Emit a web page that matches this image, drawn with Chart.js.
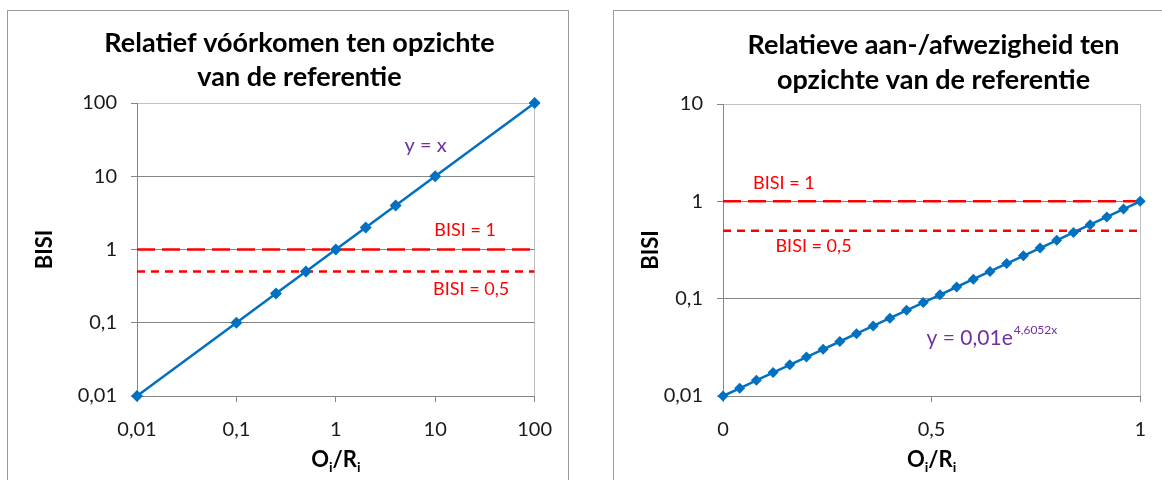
<!DOCTYPE html>
<html>
<head>
<meta charset="utf-8">
<script src="https://cdn.jsdelivr.net/npm/chart.js@4.4.0/dist/chart.umd.min.js"></script>
<style>
  body { margin:0; background:#fff; width:1162px; height:480px; overflow:hidden; position:relative; }
  .frame { position:absolute; border:1px solid #9a9a9a; border-bottom:none; background:#fff; }
  #f1 { left:7px; top:10px; width:560px; height:470px; }
  #f2 { left:613px; top:10px; width:548px; height:470px; border-right:none; }
  canvas { display:block; }
</style>
</head>
<body>
<div class="frame" id="f1"><canvas id="c1" width="560" height="470"></canvas></div>
<div class="frame" id="f2"><canvas id="c2" width="548" height="470"></canvas></div>
<script>
// links: relatief voorkomen (y = x)
const ratioX = [0.01, 0.1, 0.25, 0.5, 1, 2, 4, 10, 100]
const bisiLeft = [0.01, 0.1, 0.25, 0.5, 1, 2, 4, 10, 100]

// rechts: relatieve aan-/afwezigheid (y = 0,01e^4,6052x)
const fractionX = [0, 0.04, 0.08, 0.12, 0.16, 0.2, 0.24, 0.28, 0.32, 0.36, 0.4, 0.44, 0.48,
  0.52, 0.56, 0.6, 0.64, 0.68, 0.72, 0.76, 0.8, 0.84, 0.88, 0.92, 0.96, 1]
const bisiRight = [0.01, 0.012, 0.0145, 0.0174, 0.0209, 0.0251, 0.0302, 0.0363, 0.0437, 0.0525,
  0.0631, 0.0759, 0.0912, 0.1096, 0.1318, 0.1585, 0.1905, 0.2291, 0.2754, 0.3311, 0.3981,
  0.4786, 0.5754, 0.6918, 0.8318, 1]

// referentielijnen
const bisiLevels = [1, 0.5]

// as-labels
const leftXTicks = [0.01, 0.1, 1, 10, 100]
const leftYTicks = [0.01, 0.1, 1, 10, 100]
const rightXTicks = [0, 0.5, 1]
const rightYTicks = [0.01, 0.1, 1, 10]

const FONT = "Lato, 'Open Sans', sans-serif"
const BLUE = '#0070c0'
const RED = '#ff0000'
const PURPLE = '#7030a0'

Chart.defaults.font.family = FONT
Chart.defaults.color = '#1a1a1a'

const comma = v => String(v).replace('.', ',')

function axis(type, ticks, fixed, isX) {
  const min = ticks[0], max = ticks[ticks.length - 1]
  return {
    type: type,
    min: min,
    max: max,
    afterBuildTicks: s => { s.ticks = ticks.map(v => ({ value: v })) },
    afterFit: s => { if (isX) s.height = fixed; else s.width = fixed },
    border: { color: '#868686', width: 1 },
    grid: {
      tickLength: 6,
      tickColor: '#868686',
      lineWidth: 1,
      color: c => {
        if (!c.tick) return 'rgba(0,0,0,0)'
        if (c.tick.value === max) return '#c0c0c0'
        return isX ? 'rgba(0,0,0,0)' : '#868686'
      }
    },
    ticks: {
      autoSkip: false,
      maxRotation: 0,
      padding: isX ? 16 : 14,
      font: { size: 20 },
      callback: v => comma(v)
    },
    title: isX ? { display: false } : {
      display: true, text: 'BISI',
      font: { size: 22, weight: 'bold' },
      color: '#000',
      padding: { top: 24, bottom: 0 }
    }
  }
}

function levelSets(xmin, xmax) {
  return bisiLevels.map((lv, i) => ({
    data: [{ x: xmin, y: lv }, { x: xmax, y: lv }],
    borderColor: RED,
    borderWidth: 2.5,
    borderDash: i === 0 ? [18, 7] : [8, 6],
    pointRadius: 0,
    showLine: true
  }))
}

function textPlugin(cfg) {
  return {
    id: 'texts',
    afterDraw(chart) {
      const ctx = chart.ctx
      const xs = chart.scales.x, ys = chart.scales.y
      const a = chart.chartArea
      ctx.save()

      // titel
      ctx.fillStyle = '#000'
      ctx.font = 'bold 27px ' + FONT
      ctx.textAlign = 'center'
      ctx.textBaseline = 'middle'
      cfg.title.forEach((t, i) => ctx.fillText(t, cfg.titleX, cfg.titleY[i]))

      // x-astitel met subscript
      const parts = [['O', 0], ['i', 1], ['/R', 0], ['i', 1]]
      const big = 'bold 22px ' + FONT, small = 'bold 14px ' + FONT
      let w = 0
      parts.forEach(p => { ctx.font = p[1] ? small : big; w += ctx.measureText(p[0]).width })
      let x = (a.left + a.right) / 2 - w / 2
      ctx.textAlign = 'left'
      ctx.textBaseline = 'alphabetic'
      parts.forEach(p => {
        ctx.font = p[1] ? small : big
        ctx.fillText(p[0], x, p[1] ? 461 : 456)
        x += ctx.measureText(p[0]).width
      })

      // annotaties
      cfg.labels.forEach(l => {
        const px = xs.getPixelForValue(l.x), py = ys.getPixelForValue(l.y)
        ctx.fillStyle = l.color
        ctx.font = l.size + 'px ' + FONT
        ctx.textAlign = l.align || 'center'
        ctx.textBaseline = 'middle'
        ctx.fillText(l.text, px, py)
        if (l.sup) {
          const tw = ctx.measureText(l.text).width
          ctx.font = '12px ' + FONT
          ctx.textAlign = 'left'
          ctx.fillText(l.sup, px + tw + 1, py - 8)
        }
      })
      ctx.restore()
    }
  }
}

// links
new Chart(document.getElementById('c1'), {
  type: 'scatter',
  data: {
    datasets: [{
      data: ratioX.map((x, i) => ({ x: x, y: bisiLeft[i] })),
      borderColor: BLUE,
      backgroundColor: BLUE,
      borderWidth: 2.5,
      showLine: true,
      clip: false,
      pointStyle: 'rectRot',
      pointRadius: 6,
      pointBorderWidth: 0
    }].concat(levelSets(leftXTicks[0], leftXTicks[leftXTicks.length - 1]))
  },
  options: {
    responsive: false,
    animation: false,
    layout: { padding: { top: 92, right: 33, bottom: 0, left: 0 } },
    plugins: { legend: { display: false }, tooltip: { enabled: false } },
    scales: {
      x: axis('logarithmic', leftXTicks, 85, true),
      y: axis('logarithmic', leftYTicks, 129, false)
    }
  },
  plugins: [textPlugin({
    title: ['Relatief vóórkomen ten opzichte', 'van de referentie'],
    titleX: 291.5,
    titleY: [32, 66],
    labels: [
      { text: 'y = x', x: 8, y: 26, color: PURPLE, size: 20 },
      { text: 'BISI = 1', x: 20, y: 1.85, color: RED, size: 18 },
      { text: 'BISI = 0,5', x: 23, y: 0.29, color: RED, size: 18 }
    ]
  })]
})

// rechts
new Chart(document.getElementById('c2'), {
  type: 'scatter',
  data: {
    datasets: [{
      data: fractionX.map((x, i) => ({ x: x, y: bisiRight[i] })),
      borderColor: BLUE,
      backgroundColor: BLUE,
      borderWidth: 2.5,
      showLine: true,
      clip: false,
      pointStyle: 'rectRot',
      pointRadius: 5.5,
      pointBorderWidth: 0
    }].concat(levelSets(rightXTicks[0], rightXTicks[rightXTicks.length - 1]))
  },
  options: {
    responsive: false,
    animation: false,
    layout: { padding: { top: 93, right: 15, bottom: 0, left: 0 } },
    plugins: { legend: { display: false }, tooltip: { enabled: false } },
    scales: {
      x: axis('linear', rightXTicks, 85, true),
      y: axis('logarithmic', rightYTicks, 109, false)
    }
  },
  plugins: [textPlugin({
    title: ['Relatieve aan-/afwezigheid ten', 'opzichte van de referentie'],
    titleX: 319.5,
    titleY: [34, 69],
    labels: [
      { text: 'BISI = 1', x: 0.146, y: 1.54, color: RED, size: 18 },
      { text: 'BISI = 0,5', x: 0.217, y: 0.348, color: RED, size: 18 },
      { text: 'y = 0,01e', x: 0.488, y: 0.0394, color: PURPLE, size: 21, align: 'left', sup: '4,6052x' }
    ]
  })]
})
</script>
</body>
</html>
